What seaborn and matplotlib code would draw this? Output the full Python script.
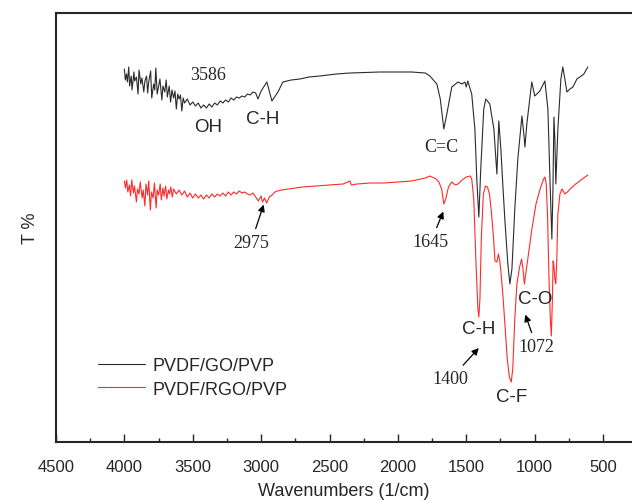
import numpy as np
import pandas as pd
import seaborn as sns
import matplotlib.pyplot as plt

# FTIR spectra (T in arbitrary units)
go_wn = [4000, 3993, 3985, 3978, 3968, 3962, 3950, 3944, 3930, 3925, 3912, 3900, 3893, 3880,
         3872, 3858, 3850, 3838, 3830, 3822, 3808, 3800, 3786, 3778, 3770, 3760, 3748, 3740,
         3726, 3718, 3705, 3694, 3686, 3672, 3662, 3652, 3640, 3630, 3620, 3610, 3600, 3590,
         3580, 3570, 3560, 3540, 3520, 3500, 3480, 3460, 3440, 3420, 3400, 3380, 3360, 3340,
         3320, 3300, 3280, 3260, 3240, 3220, 3200, 3180, 3160, 3140, 3120, 3100, 3080, 3060,
         3040, 3023, 3000, 2958, 2921, 2877, 2841, 2780, 2716, 2650, 2570, 2450, 2350, 2132,
         1900, 1800, 1766, 1715, 1690, 1664, 1642, 1606, 1560, 1532, 1510, 1500, 1489, 1460,
         1437, 1423, 1408, 1394, 1372, 1357, 1328, 1298, 1276, 1262, 1247, 1233, 1218, 1196,
         1181, 1166, 1145, 1123, 1093, 1079, 1071, 1057, 1021, 999, 962, 925, 903, 888, 874,
         866, 859, 852, 845, 830, 808, 794, 779, 764, 742, 720, 691, 669, 640, 611]
go_t = [373, 362, 368, 360, 375, 356, 366, 352, 370, 361, 365, 348, 372, 358,
        364, 350, 361, 366, 349, 360, 371, 344, 358, 352, 374, 348, 357, 363,
        342, 356, 350, 362, 345, 356, 340, 352, 344, 351, 333, 348, 343, 347,
        331, 344, 339, 343, 337, 340, 336, 339, 334, 337, 334, 338, 335, 339,
        337, 341, 339, 342, 340, 344, 342, 345, 344, 346, 345, 348, 347, 350,
        349, 343, 351, 360, 341, 350, 360, 362, 363, 365, 366, 368, 369, 370,
        370, 369, 366, 358, 343, 313, 328, 355, 360, 358, 360, 355, 361, 348,
        313, 263, 225, 273, 333, 343, 338, 313, 268, 321, 293, 258, 223, 178,
        158, 173, 233, 283, 326, 308, 295, 318, 360, 346, 351, 361, 333, 263, 203,
        253, 325, 303, 258, 313, 363, 375, 363, 350, 353, 355, 363, 365, 368, 375]

rgo_wn = [4000, 3992, 3983, 3975, 3963, 3955, 3946, 3934, 3926, 3912, 3904, 3893, 3884, 3870,
          3862, 3850, 3842, 3830, 3822, 3810, 3802, 3790, 3780, 3768, 3760, 3750, 3738, 3730,
          3718, 3710, 3698, 3690, 3678, 3670, 3660, 3650, 3640, 3620, 3600, 3580, 3560, 3540,
          3520, 3500, 3480, 3460, 3440, 3420, 3400, 3380, 3360, 3340, 3320, 3300, 3280, 3260,
          3240, 3220, 3200, 3180, 3160, 3140, 3120, 3100, 3080, 3060, 3040, 3020, 3000, 2990,
          2975, 2960, 2940, 2920, 2900, 2880, 2850, 2800, 2700, 2600, 2500, 2400, 2350, 2340,
          2300, 2200, 2100, 2000, 1900, 1800, 1766, 1720, 1700, 1680, 1664, 1650, 1630, 1606,
          1580, 1560, 1530, 1500, 1470, 1460, 1445, 1430, 1415, 1408, 1400, 1390, 1375, 1360,
          1345, 1330, 1315, 1300, 1290, 1276, 1265, 1255, 1245, 1230, 1215, 1200, 1185, 1171,
          1160, 1145, 1130, 1110, 1095, 1085, 1075, 1065, 1050, 1020, 990, 960, 935, 925, 915,
          905, 895, 885, 878, 870, 865, 860, 852, 845, 838, 830, 815, 800, 790, 780, 760, 740,
          700, 650, 611]
rgo_t = [261, 254, 262, 250, 257, 246, 262, 249, 256, 240, 253, 248, 260, 244,
         252, 236, 258, 247, 261, 232, 250, 244, 259, 234, 252, 247, 258, 242,
         254, 246, 256, 243, 252, 248, 255, 245, 253, 248, 252, 247, 251, 245,
         249, 244, 248, 244, 247, 243, 247, 244, 248, 245, 248, 246, 249, 246,
         250, 247, 250, 248, 251, 249, 250, 248, 247, 249, 245, 241, 246, 240,
         244, 239, 245, 247, 250, 251, 252, 253, 255, 256, 257, 258, 261, 257,
         258, 259, 259, 260, 261, 264, 266, 263, 260, 253, 238, 243, 255, 260,
         257, 258, 262, 265, 266, 263, 243, 183, 133, 125, 143, 203, 248, 256,
         255, 248, 228, 203, 181, 180, 188, 181, 168, 143, 113, 83, 65, 60,
         73, 123, 158, 175, 183, 173, 158, 168, 183, 213, 238, 253, 263, 265, 258,
         223, 163, 123, 106, 143, 181, 178, 163, 158, 183, 228, 248, 253, 251, 248, 250, 253,
         258, 263, 267]

labels = ["PVDF/GO/PVP", "PVDF/RGO/PVP"]
colors = ["#2b2b2b", "#ff2a2a"]

df = pd.concat([
    pd.DataFrame({"wn": go_wn, "T": go_t, "sample": labels[0]}),
    pd.DataFrame({"wn": rgo_wn, "T": rgo_t, "sample": labels[1]}),
])

sns.set_style("ticks")
plt.rcParams['font.family'] = ['Liberation Sans', 'DejaVu Sans']

fig = plt.figure(figsize=(6.32, 5.02), dpi=100)
ax = fig.add_axes([56 / 632, 59 / 502, 576 / 632, 429 / 502])

sns.lineplot(data=df, x="wn", y="T", hue="sample", palette=colors, sort=False,
             linewidth=0.8, ax=ax, legend=True)

ax.set_xlim(4500, 288)
ax.set_ylim(0, 429)
ax.set_xticks(np.arange(4500, 400, -500))
ax.set_xticks(np.arange(4250, 400, -500), minor=True)
ax.tick_params(axis="x", which="major", direction="in", length=6, width=1, labelsize=12, pad=12)
ax.tick_params(axis="x", which="minor", direction="in", length=3, width=1)
ax.set_yticks([])
ax.spines["right"].set_visible(False)
for s in ["left", "top", "bottom"]:
    ax.spines[s].set_linewidth(1.5)
ax.set_xlabel("Wavenumbers (1/cm)", fontsize=13, labelpad=6)
ax.set_ylabel("T %", fontsize=13, labelpad=12)

leg = ax.legend(loc="upper left", bbox_to_anchor=(0.045, 0.235), frameon=False,
                fontsize=13, handlelength=2.6, handletextpad=0.4, labelspacing=0.35)

serif = ['Liberation Serif', 'DejaVu Serif']
ax.text(3389, 367, "3586", family=serif, fontsize=13, ha="center", va="center")
ax.text(3390, 315, "OH", fontsize=13.5, ha="center", va="center")
ax.text(2987, 323, "C-H", fontsize=13.5, ha="center", va="center")
ax.text(1686, 296, "C=C", family=serif, fontsize=13, ha="center", va="center")

arrow = dict(arrowstyle="-|>", color="black", lw=0.9, mutation_scale=10)
ax.annotate("2975", xy=(2975, 240), xytext=(3075, 199), family=serif, fontsize=13,
            ha="center", va="center", arrowprops=arrow)
ax.annotate("1645", xy=(1660, 233), xytext=(1760, 200), family=serif, fontsize=13,
            ha="center", va="center", arrowprops=arrow)
ax.annotate("1400", xy=(1395, 96), xytext=(1615, 63), family=serif, fontsize=13,
            ha="center", va="center", arrowprops=arrow)
ax.text(1408, 113, "C-H", fontsize=13.5, ha="center", va="center")
ax.text(1170, 45, "C-F", fontsize=13.5, ha="center", va="center")
ax.text(998, 143, "C-O", fontsize=13.5, ha="center", va="center")
ax.annotate("1072", xy=(1075, 130), xytext=(985, 95), family=serif, fontsize=13,
            ha="center", va="center", arrowprops=arrow)

fig.savefig("out.png", dpi=100)
